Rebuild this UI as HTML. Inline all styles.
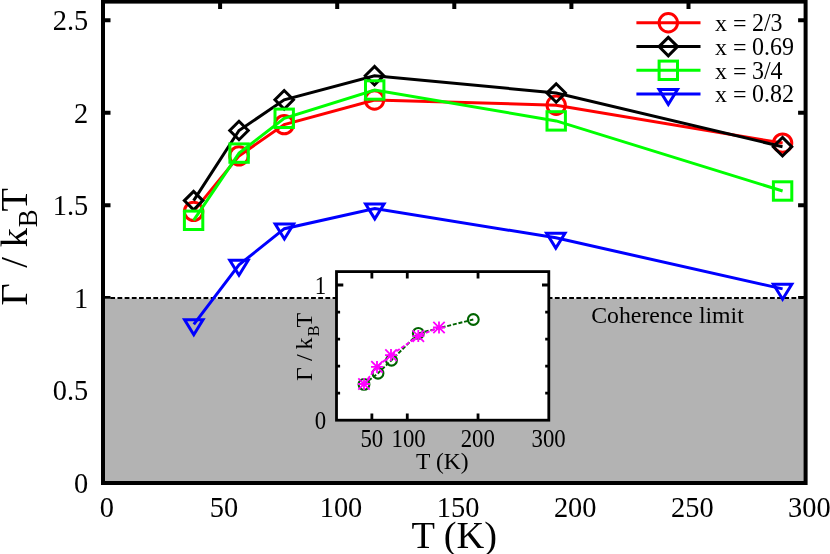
<!DOCTYPE html>
<html><head><meta charset="utf-8"><title>Scattering rate vs temperature</title>
<style>
html,body{margin:0;padding:0;background:#fff;}
body{width:830px;height:554px;overflow:hidden;font-family:"Liberation Serif",serif;}
svg{display:block;will-change:transform;}
svg text{font-family:"Liberation Serif",serif;fill:#000;}
</style></head><body>
<svg width="830" height="554" viewBox="0 0 830 554">
<rect width="830" height="554" fill="#fff"/>
<path d="M220.10 483.0V475.5M220.10 1.6V9.1" stroke="#000" stroke-width="4.0"/>
<path d="M337.20 483.0V475.5M337.20 1.6V9.1" stroke="#000" stroke-width="4.0"/>
<path d="M454.30 483.0V475.5M454.30 1.6V9.1" stroke="#000" stroke-width="4.0"/>
<path d="M571.40 483.0V475.5M571.40 1.6V9.1" stroke="#000" stroke-width="4.0"/>
<path d="M688.50 483.0V475.5M688.50 1.6V9.1" stroke="#000" stroke-width="4.0"/>
<path d="M103.0 390.44H110.5M805.6 390.44H798.1" stroke="#000" stroke-width="4.0"/>
<path d="M103.0 297.88H110.5M805.6 297.88H798.1" stroke="#000" stroke-width="4.0"/>
<path d="M103.0 205.32H110.5M805.6 205.32H798.1" stroke="#000" stroke-width="4.0"/>
<path d="M103.0 112.76H110.5M805.6 112.76H798.1" stroke="#000" stroke-width="4.0"/>
<path d="M103.0 20.20H110.5M805.6 20.20H798.1" stroke="#000" stroke-width="4.0"/>
<rect x="103.0" y="298.68" width="702.6" height="184.32" fill="#b3b3b3"/>
<path d="M110.3 297.88H805.6" stroke="#000" stroke-width="2" stroke-dasharray="4.8 2.37"/>
<rect x="103.0" y="1.6" width="702.6" height="481.4" fill="none" stroke="#000" stroke-width="4.0"/>
<polyline points="193.6,211.4 239.0,155.9 284.2,124.6 374.5,99.95 556.2,105.2 782.6,143.1" fill="none" stroke="#f00" stroke-width="3.0"/>
<circle cx="193.6" cy="211.4" r="9.20" fill="none" stroke="#f00" stroke-width="3.0"/>
<circle cx="239.0" cy="155.9" r="9.20" fill="none" stroke="#f00" stroke-width="3.0"/>
<circle cx="284.2" cy="124.6" r="9.20" fill="none" stroke="#f00" stroke-width="3.0"/>
<circle cx="374.5" cy="99.95" r="9.20" fill="none" stroke="#f00" stroke-width="3.0"/>
<circle cx="556.2" cy="105.2" r="9.20" fill="none" stroke="#f00" stroke-width="3.0"/>
<circle cx="782.6" cy="143.1" r="9.20" fill="none" stroke="#f00" stroke-width="3.0"/>
<polyline points="193.6,200.6 239.0,130.5 284.2,99.8 374.5,75.7 556.2,93.0 782.5,146.7" fill="none" stroke="#000" stroke-width="3.0"/>
<path d="M193.6 191.35L184.35 200.6L193.6 209.85L202.85 200.6Z" fill="none" stroke="#000" stroke-width="3.0"/>
<path d="M239.0 121.25L229.75 130.5L239.0 139.75L248.25 130.5Z" fill="none" stroke="#000" stroke-width="3.0"/>
<path d="M284.2 90.55L274.95 99.8L284.2 109.05L293.45 99.8Z" fill="none" stroke="#000" stroke-width="3.0"/>
<path d="M374.5 66.45L365.25 75.7L374.5 84.95L383.75 75.7Z" fill="none" stroke="#000" stroke-width="3.0"/>
<path d="M556.2 83.75L546.95 93.0L556.2 102.25L565.45 93.0Z" fill="none" stroke="#000" stroke-width="3.0"/>
<path d="M782.5 137.45L773.25 146.7L782.5 155.95L791.75 146.7Z" fill="none" stroke="#000" stroke-width="3.0"/>
<polyline points="193.6,220.3 239.1,153.1 284.2,118.3 374.7,90.0 556.2,120.9 782.6,191.0" fill="none" stroke="#0f0" stroke-width="3.0"/>
<rect x="184.40" y="211.10" width="18.40" height="18.40" fill="none" stroke="#0f0" stroke-width="3.0"/>
<rect x="229.90" y="143.90" width="18.40" height="18.40" fill="none" stroke="#0f0" stroke-width="3.0"/>
<rect x="275.00" y="109.10" width="18.40" height="18.40" fill="none" stroke="#0f0" stroke-width="3.0"/>
<rect x="365.50" y="80.80" width="18.40" height="18.40" fill="none" stroke="#0f0" stroke-width="3.0"/>
<rect x="547.00" y="111.70" width="18.40" height="18.40" fill="none" stroke="#0f0" stroke-width="3.0"/>
<rect x="773.40" y="181.80" width="18.40" height="18.40" fill="none" stroke="#0f0" stroke-width="3.0"/>
<polyline points="193.8,324.4 239.0,264.9 284.4,228.7 374.8,208.6 555.8,237.8 782.6,288.9" fill="none" stroke="#00f" stroke-width="3.0"/>
<path d="M193.8 334.70L184.60 319.80L203.00 319.80Z" fill="none" stroke="#00f" stroke-width="3.0"/>
<path d="M239.0 275.20L229.80 260.30L248.20 260.30Z" fill="none" stroke="#00f" stroke-width="3.0"/>
<path d="M284.4 239.00L275.20 224.10L293.60 224.10Z" fill="none" stroke="#00f" stroke-width="3.0"/>
<path d="M374.8 218.90L365.60 204.00L384.00 204.00Z" fill="none" stroke="#00f" stroke-width="3.0"/>
<path d="M555.8 248.10L546.60 233.20L565.00 233.20Z" fill="none" stroke="#00f" stroke-width="3.0"/>
<path d="M782.6 299.20L773.40 284.30L791.80 284.30Z" fill="none" stroke="#00f" stroke-width="3.0"/>
<text transform="translate(106.80 516.70) scale(1 1.07)" font-size="28.4" text-anchor="middle">0</text>
<text transform="translate(223.90 516.70) scale(1 1.07)" font-size="28.4" text-anchor="middle">50</text>
<text transform="translate(341.00 516.70) scale(1 1.07)" font-size="28.4" text-anchor="middle">100</text>
<text transform="translate(458.10 516.70) scale(1 1.07)" font-size="28.4" text-anchor="middle">150</text>
<text transform="translate(575.20 516.70) scale(1 1.07)" font-size="28.4" text-anchor="middle">200</text>
<text transform="translate(692.30 516.70) scale(1 1.07)" font-size="28.4" text-anchor="middle">250</text>
<text transform="translate(809.40 516.70) scale(1 1.07)" font-size="28.4" text-anchor="middle">300</text>
<text transform="translate(88.30 492.80) scale(1 1.07)" font-size="28.4" text-anchor="end">0</text>
<text transform="translate(88.30 400.24) scale(1 1.07)" font-size="28.4" text-anchor="end">0.5</text>
<text transform="translate(88.30 307.68) scale(1 1.07)" font-size="28.4" text-anchor="end">1</text>
<text transform="translate(88.30 215.12) scale(1 1.07)" font-size="28.4" text-anchor="end">1.5</text>
<text transform="translate(88.30 122.56) scale(1 1.07)" font-size="28.4" text-anchor="end">2</text>
<text transform="translate(88.30 30.00) scale(1 1.07)" font-size="28.4" text-anchor="end">2.5</text>
<text x="454.3" y="547.5" font-size="38.4" text-anchor="middle">T (K)</text>
<g transform="translate(26.6 305.6) rotate(-90)"><text x="11.15" y="0" font-size="38.40" text-anchor="middle">&#915;</text><text x="43.2" y="0" font-size="38.40" text-anchor="middle">/</text><text x="67.9" y="0" font-size="38.40" text-anchor="middle">k</text><text x="87.45" y="9.9" font-size="26.88" text-anchor="middle">B</text><text x="105.9" y="0" font-size="38.40" text-anchor="middle">T</text></g>
<path d="M636.4 22.8H700.5" stroke="#f00" stroke-width="3.0"/>
<circle cx="668.3" cy="22.8" r="9.20" fill="none" stroke="#f00" stroke-width="3.0"/>
<text transform="translate(715.00 31.00) scale(1 1.0)" font-size="24.0" text-anchor="start">x =</text>
<text transform="translate(751.94 31.00) scale(1 1.07)" font-size="24.0" text-anchor="start">2/3</text>
<path d="M636.4 46.6H700.5" stroke="#000" stroke-width="3.0"/>
<path d="M668.3 37.35L659.05 46.6L668.3 55.85L677.55 46.6Z" fill="none" stroke="#000" stroke-width="3.0"/>
<text transform="translate(715.00 54.80) scale(1 1.0)" font-size="24.0" text-anchor="start">x =</text>
<text transform="translate(751.94 54.80) scale(1 1.07)" font-size="24.0" text-anchor="start">0.69</text>
<path d="M636.4 70.3H700.5" stroke="#0f0" stroke-width="3.0"/>
<rect x="659.10" y="61.10" width="18.40" height="18.40" fill="none" stroke="#0f0" stroke-width="3.0"/>
<text transform="translate(715.00 78.50) scale(1 1.0)" font-size="24.0" text-anchor="start">x =</text>
<text transform="translate(751.94 78.50) scale(1 1.07)" font-size="24.0" text-anchor="start">3/4</text>
<path d="M636.4 94.1H700.5" stroke="#00f" stroke-width="3.0"/>
<path d="M668.3 104.40L659.10 89.50L677.50 89.50Z" fill="none" stroke="#00f" stroke-width="3.0"/>
<text transform="translate(715.00 102.30) scale(1 1.0)" font-size="24.0" text-anchor="start">x =</text>
<text transform="translate(751.94 102.30) scale(1 1.07)" font-size="24.0" text-anchor="start">0.82</text>
<text x="591.2" y="323" font-size="23.8">Coherence limit</text>
<rect x="336.5" y="271.6" width="212.30" height="148.60" fill="#fff"/>
<path d="M371.88 420.2V413.4M371.88 271.6V278.40000000000003" stroke="#000" stroke-width="2.8"/>
<path d="M407.27 420.2V413.4M407.27 271.6V278.40000000000003" stroke="#000" stroke-width="2.8"/>
<path d="M478.03 420.2V413.4M478.03 271.6V278.40000000000003" stroke="#000" stroke-width="2.8"/>
<path d="M336.5 285.00H343.3M548.8 285.00H542.0" stroke="#000" stroke-width="2.8"/>
<path d="M336.5 393.16H340.1M548.8 393.16H545.1999999999999" stroke="#000" stroke-width="2.8"/>
<path d="M336.5 366.12H340.1M548.8 366.12H545.1999999999999" stroke="#000" stroke-width="2.8"/>
<path d="M336.5 339.08H340.1M548.8 339.08H545.1999999999999" stroke="#000" stroke-width="2.8"/>
<path d="M336.5 312.04H340.1M548.8 312.04H545.1999999999999" stroke="#000" stroke-width="2.8"/>
<rect x="336.5" y="271.6" width="212.30" height="148.60" fill="none" stroke="#000" stroke-width="2.8"/>
<polyline points="364.0,384.4 378.0,373.2 391.5,360.2 418.3,333.4 473.3,319.5" fill="none" stroke="#006400" stroke-width="1.9" stroke-dasharray="4 1.8"/>
<circle cx="364.0" cy="384.4" r="5.40" fill="none" stroke="#006400" stroke-width="2.1"/>
<circle cx="378.0" cy="373.2" r="5.40" fill="none" stroke="#006400" stroke-width="2.1"/>
<circle cx="391.5" cy="360.2" r="5.40" fill="none" stroke="#006400" stroke-width="2.1"/>
<circle cx="418.3" cy="333.4" r="5.40" fill="none" stroke="#006400" stroke-width="2.1"/>
<circle cx="473.3" cy="319.5" r="5.40" fill="none" stroke="#006400" stroke-width="2.1"/>
<polyline points="364.0,384.0 377.0,366.9 391.0,355.1 418.3,336.1 439.0,327.5" fill="none" stroke="#f0f" stroke-width="1.9" stroke-dasharray="4 1.8"/>
<path d="M358.00 384.0H370.00M364.0 378.00V390.00M358.30 378.30L369.70 389.70M358.30 389.70L369.70 378.30" fill="none" stroke="#f0f" stroke-width="1.8"/>
<path d="M371.00 366.9H383.00M377.0 360.90V372.90M371.30 361.20L382.70 372.60M371.30 372.60L382.70 361.20" fill="none" stroke="#f0f" stroke-width="1.8"/>
<path d="M385.00 355.1H397.00M391.0 349.10V361.10M385.30 349.40L396.70 360.80M385.30 360.80L396.70 349.40" fill="none" stroke="#f0f" stroke-width="1.8"/>
<path d="M412.30 336.1H424.30M418.3 330.10V342.10M412.60 330.40L424.00 341.80M412.60 341.80L424.00 330.40" fill="none" stroke="#f0f" stroke-width="1.8"/>
<path d="M433.00 327.5H445.00M439.0 321.50V333.50M433.30 321.80L444.70 333.20M433.30 333.20L444.70 321.80" fill="none" stroke="#f0f" stroke-width="1.8"/>
<text transform="translate(320.40 428.70) scale(1 1.07)" font-size="22.8" text-anchor="middle">0</text>
<text transform="translate(320.40 293.50) scale(1 1.07)" font-size="22.8" text-anchor="middle">1</text>
<text transform="translate(371.80 446.60) scale(1 1.07)" font-size="22.8" text-anchor="middle">50</text>
<text transform="translate(408.60 446.60) scale(1 1.07)" font-size="22.8" text-anchor="middle">100</text>
<text transform="translate(477.80 446.60) scale(1 1.07)" font-size="22.8" text-anchor="middle">200</text>
<text transform="translate(548.60 446.60) scale(1 1.07)" font-size="22.8" text-anchor="middle">300</text>
<text x="442.3" y="469.2" font-size="23.5" text-anchor="middle">T (K)</text>
<g transform="translate(311.6 381.3) rotate(-90)"><text x="7.1" y="0" font-size="23.90" text-anchor="middle">&#915;</text><text x="23.6" y="0" font-size="23.90" text-anchor="middle">/</text><text x="37.8" y="0" font-size="23.90" text-anchor="middle">k</text><text x="50.3" y="7.0" font-size="16.73" text-anchor="middle">B</text><text x="61.0" y="0" font-size="23.90" text-anchor="middle">T</text></g>
</svg>
</body></html>
